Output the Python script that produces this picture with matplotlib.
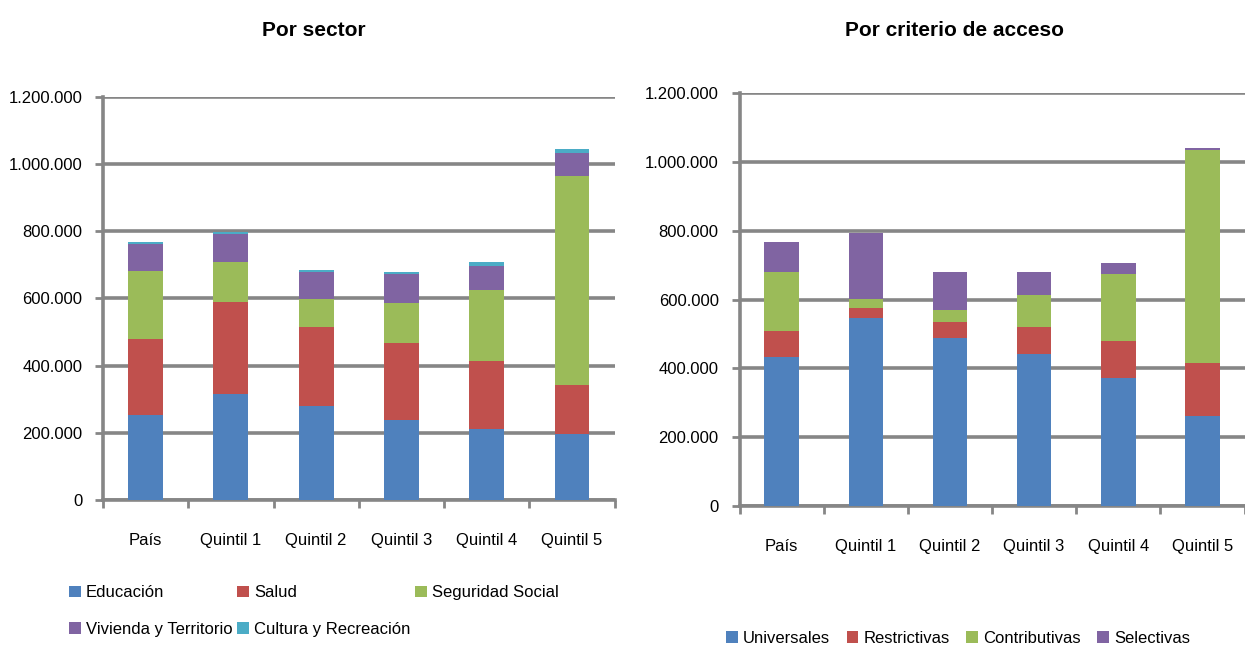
import matplotlib.pyplot as plt
import numpy as np
from matplotlib.ticker import FuncFormatter, FixedLocator

plt.rcParams['font.family'] = ['Liberation Sans Narrow', 'Liberation Sans', 'DejaVu Sans']

# datos
categorias = ['País', 'Quintil 1', 'Quintil 2', 'Quintil 3', 'Quintil 4', 'Quintil 5']

# Por sector
educacion = [252000, 317000, 279000, 237000, 210000, 195000]
salud = [226000, 272000, 235000, 230000, 204000, 146000]
seguridad_social = [205000, 119000, 84000, 121000, 211000, 624000]
vivienda = [78000, 83000, 80000, 84000, 73000, 69000]
cultura = [6000, 6000, 6000, 6000, 10000, 11000]

# Por criterio de acceso
universales = [433000, 546000, 489000, 443000, 372000, 263000]
restrictivas = [76000, 29000, 46000, 77000, 107000, 154000]
contributivas = [170000, 26000, 36000, 92000, 196000, 616000]
selectivas = [87000, 191000, 108000, 67000, 30000, 6000]

sector_series = [('Educación', educacion), ('Salud', salud),
                 ('Seguridad Social', seguridad_social),
                 ('Vivienda y Territorio', vivienda),
                 ('Cultura y Recreación', cultura)]
acceso_series = [('Universales', universales), ('Restrictivas', restrictivas),
                 ('Contributivas', contributivas), ('Selectivas', selectivas)]

colores = ['#4F81BD', '#C0504D', '#9BBB59', '#8064A2', '#4BACC6']
gris = '#868686'
fs = 12

fig = plt.figure(figsize=(12.45, 6.5), dpi=100)


def miles(v, pos):
    return f'{int(v):,}'.replace(',', '.')


def apilar(ax, series):
    x = np.arange(len(categorias))
    base = np.zeros(len(categorias))
    handles = []
    for (nombre, vals), c in zip(series, colores):
        h = ax.bar(x, vals, 0.41, bottom=base, color=c, label=nombre, zorder=3)
        handles.append(h)
        base += np.array(vals)
    ax.set_xlim(-0.5, len(categorias) - 0.5)
    ax.set_ylim(0, 1200000)
    ax.set_yticks(np.arange(0, 1200001, 200000))
    ax.yaxis.set_major_formatter(FuncFormatter(miles))
    ax.yaxis.grid(True, color=gris, lw=2.6, zorder=0)
    ax.set_axisbelow(True)
    for s in ['top', 'right']:
        ax.spines[s].set_visible(False)
    for s in ['left', 'bottom']:
        ax.spines[s].set_color(gris)
        ax.spines[s].set_linewidth(2.6)
    ax.xaxis.set_major_locator(FixedLocator(np.arange(-0.5, len(categorias), 1)))
    ax.xaxis.set_major_formatter(FuncFormatter(lambda v, p: ''))
    ax.xaxis.set_minor_locator(FixedLocator(x))
    ax.set_xticklabels(categorias, minor=True)
    ax.tick_params(axis='x', which='major', length=6, width=2, color=gris, direction='out')
    ax.tick_params(axis='x', which='minor', length=0, pad=24, labelsize=fs)
    ax.tick_params(axis='y', length=6, width=2, color=gris, pad=9, labelsize=fs)
    return handles


ax1 = fig.add_axes([0.0827, 0.2308, 0.411, 0.62])
h1 = apilar(ax1, sector_series)
fig.text(0.252, 0.953, 'Por sector', ha='center', va='center', fontsize=15, fontweight='bold')

ax2 = fig.add_axes([0.594, 0.2215, 0.4056, 0.6354])
h2 = apilar(ax2, acceso_series)
fig.text(0.767, 0.953, 'Por criterio de acceso', ha='center', va='center', fontsize=15, fontweight='bold')

# leyenda izquierda (orden estilo Excel, 3 columnas)
orden = [0, 3, 1, 4, 2]
fig.legend([h1[i] for i in orden], [sector_series[i][0] for i in orden],
           loc='upper left', bbox_to_anchor=(0.05, 0.11), ncol=3, frameon=False,
           fontsize=fs, handlelength=0.7, handleheight=0.7, handletextpad=0.3,
           columnspacing=0.3, labelspacing=1.3, borderaxespad=0)

fig.legend(h2, [n for n, _ in acceso_series],
           loc='center left', bbox_to_anchor=(0.578, 0.018), ncol=4, frameon=False,
           fontsize=fs, handlelength=0.7, handleheight=0.7, handletextpad=0.3,
           columnspacing=1.0, borderaxespad=0)

fig.savefig('out.png', dpi=100)
